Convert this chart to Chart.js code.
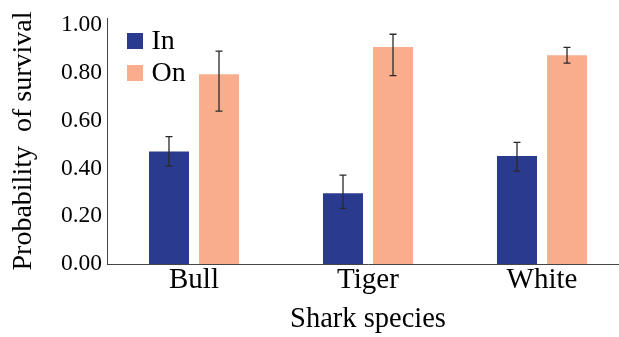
<!DOCTYPE html>
<html>
<head>
<meta charset="utf-8">
<script src="https://cdn.jsdelivr.net/npm/chart.js@4"></script>
<style>
  html, body { margin: 0; padding: 0; background: #fff; overflow: hidden; }
  #wrap { width: 619px; height: 337px; overflow: hidden; }
  canvas { display: block; }
</style>
</head>
<body>
<div id="wrap"><canvas id="c" width="630" height="337"></canvas></div>
<script>
const categories = ['Bull', 'Tiger', 'White'];
const seriesNames = ['In', 'On'];
const inValues = [0.471, 0.296, 0.452];
const inLow = [0.410, 0.233, 0.389];
const inHigh = [0.533, 0.372, 0.509];
const onValues = [0.795, 0.909, 0.874];
const onLow = [0.640, 0.789, 0.841];
const onHigh = [0.891, 0.962, 0.907];
const yTicks = [0, 0.2, 0.4, 0.6, 0.8, 1.0];
const yMax = 1.03;

const colors = ['rgb(42,58,143)', 'rgb(249,173,140)'];
const SERIF = '"Liberation Serif", "DejaVu Serif", serif';

const errorBars = {
  id: 'errorBars',
  afterDatasetsDraw(chart) {
    const ctx = chart.ctx;
    const y = chart.scales.y;
    ctx.save();
    ctx.strokeStyle = '#2a2a2a';
    ctx.lineWidth = 1.3;
    chart.data.datasets.forEach((ds, di) => {
      const meta = chart.getDatasetMeta(di);
      meta.data.forEach((bar, i) => {
        const x = bar.x;
        const yl = y.getPixelForValue(ds.errLow[i]);
        const yh = y.getPixelForValue(ds.errHigh[i]);
        const cap = 3.5;
        ctx.beginPath();
        ctx.moveTo(x, yl); ctx.lineTo(x, yh);
        ctx.moveTo(x - cap, yl); ctx.lineTo(x + cap, yl);
        ctx.moveTo(x - cap, yh); ctx.lineTo(x + cap, yh);
        ctx.stroke();
      });
    });
    ctx.restore();
  }
};

const customLegend = {
  id: 'customLegend',
  afterDraw(chart) {
    const ctx = chart.ctx;
    const area = chart.chartArea;
    ctx.save();
    ctx.font = '28px ' + SERIF;
    ctx.textBaseline = 'middle';
    ctx.textAlign = 'left';
    chart.data.datasets.forEach((ds, i) => {
      const bx = area.left + 20;
      const by = area.top + 15 + i * 32;
      ctx.fillStyle = ds.backgroundColor;
      ctx.fillRect(bx, by, 16, 16);
      ctx.fillStyle = '#000';
      ctx.fillText(ds.label, bx + 24.5, by + 8.5);
    });
    ctx.restore();
  }
};

new Chart(document.getElementById('c'), {
  type: 'bar',
  data: {
    labels: categories,
    datasets: [
      { label: seriesNames[0], data: inValues, errLow: inLow, errHigh: inHigh,
        backgroundColor: colors[0], barPercentage: 0.8, categoryPercentage: 0.575 },
      { label: seriesNames[1], data: onValues, errLow: onLow, errHigh: onHigh,
        backgroundColor: colors[1], barPercentage: 0.8, categoryPercentage: 0.575 }
    ]
  },
  options: {
    responsive: false,
    animation: false,
    layout: { padding: { top: 18, right: 1, left: 0, bottom: 0 } },
    plugins: {
      legend: { display: false },
      tooltip: { enabled: false }
    },
    scales: {
      x: {
        grid: { display: false, drawTicks: false },
        border: { display: true, color: '#444', width: 1 },
        ticks: { color: '#000', padding: 2, font: { family: SERIF, size: 29, lineHeight: 1 } },
        title: { display: true, text: 'Shark species', color: '#000',
                 font: { family: SERIF, size: 28.5, lineHeight: 1 }, padding: { top: 0, bottom: 3 } },
        afterFit(scale) { scale.height = 73; }
      },
      y: {
        min: 0, max: yMax,
        grid: { display: false, drawTicks: false },
        border: { display: true, color: '#444', width: 1 },
        afterBuildTicks(scale) { scale.ticks = yTicks.map(v => ({ value: v })); },
        ticks: { color: '#000', padding: 5, font: { family: SERIF, size: 23.5, lineHeight: 1 },
                 callback: v => Number(v).toFixed(2) },
        title: { display: true, text: 'Probability  of survival', color: '#000',
                 font: { family: SERIF, size: 28, lineHeight: 1 }, padding: { top: 10, bottom: 0 } },
        afterFit(scale) { scale.width = 107; }
      }
    }
  },
  plugins: [errorBars, customLegend]
});
</script>
</body>
</html>
